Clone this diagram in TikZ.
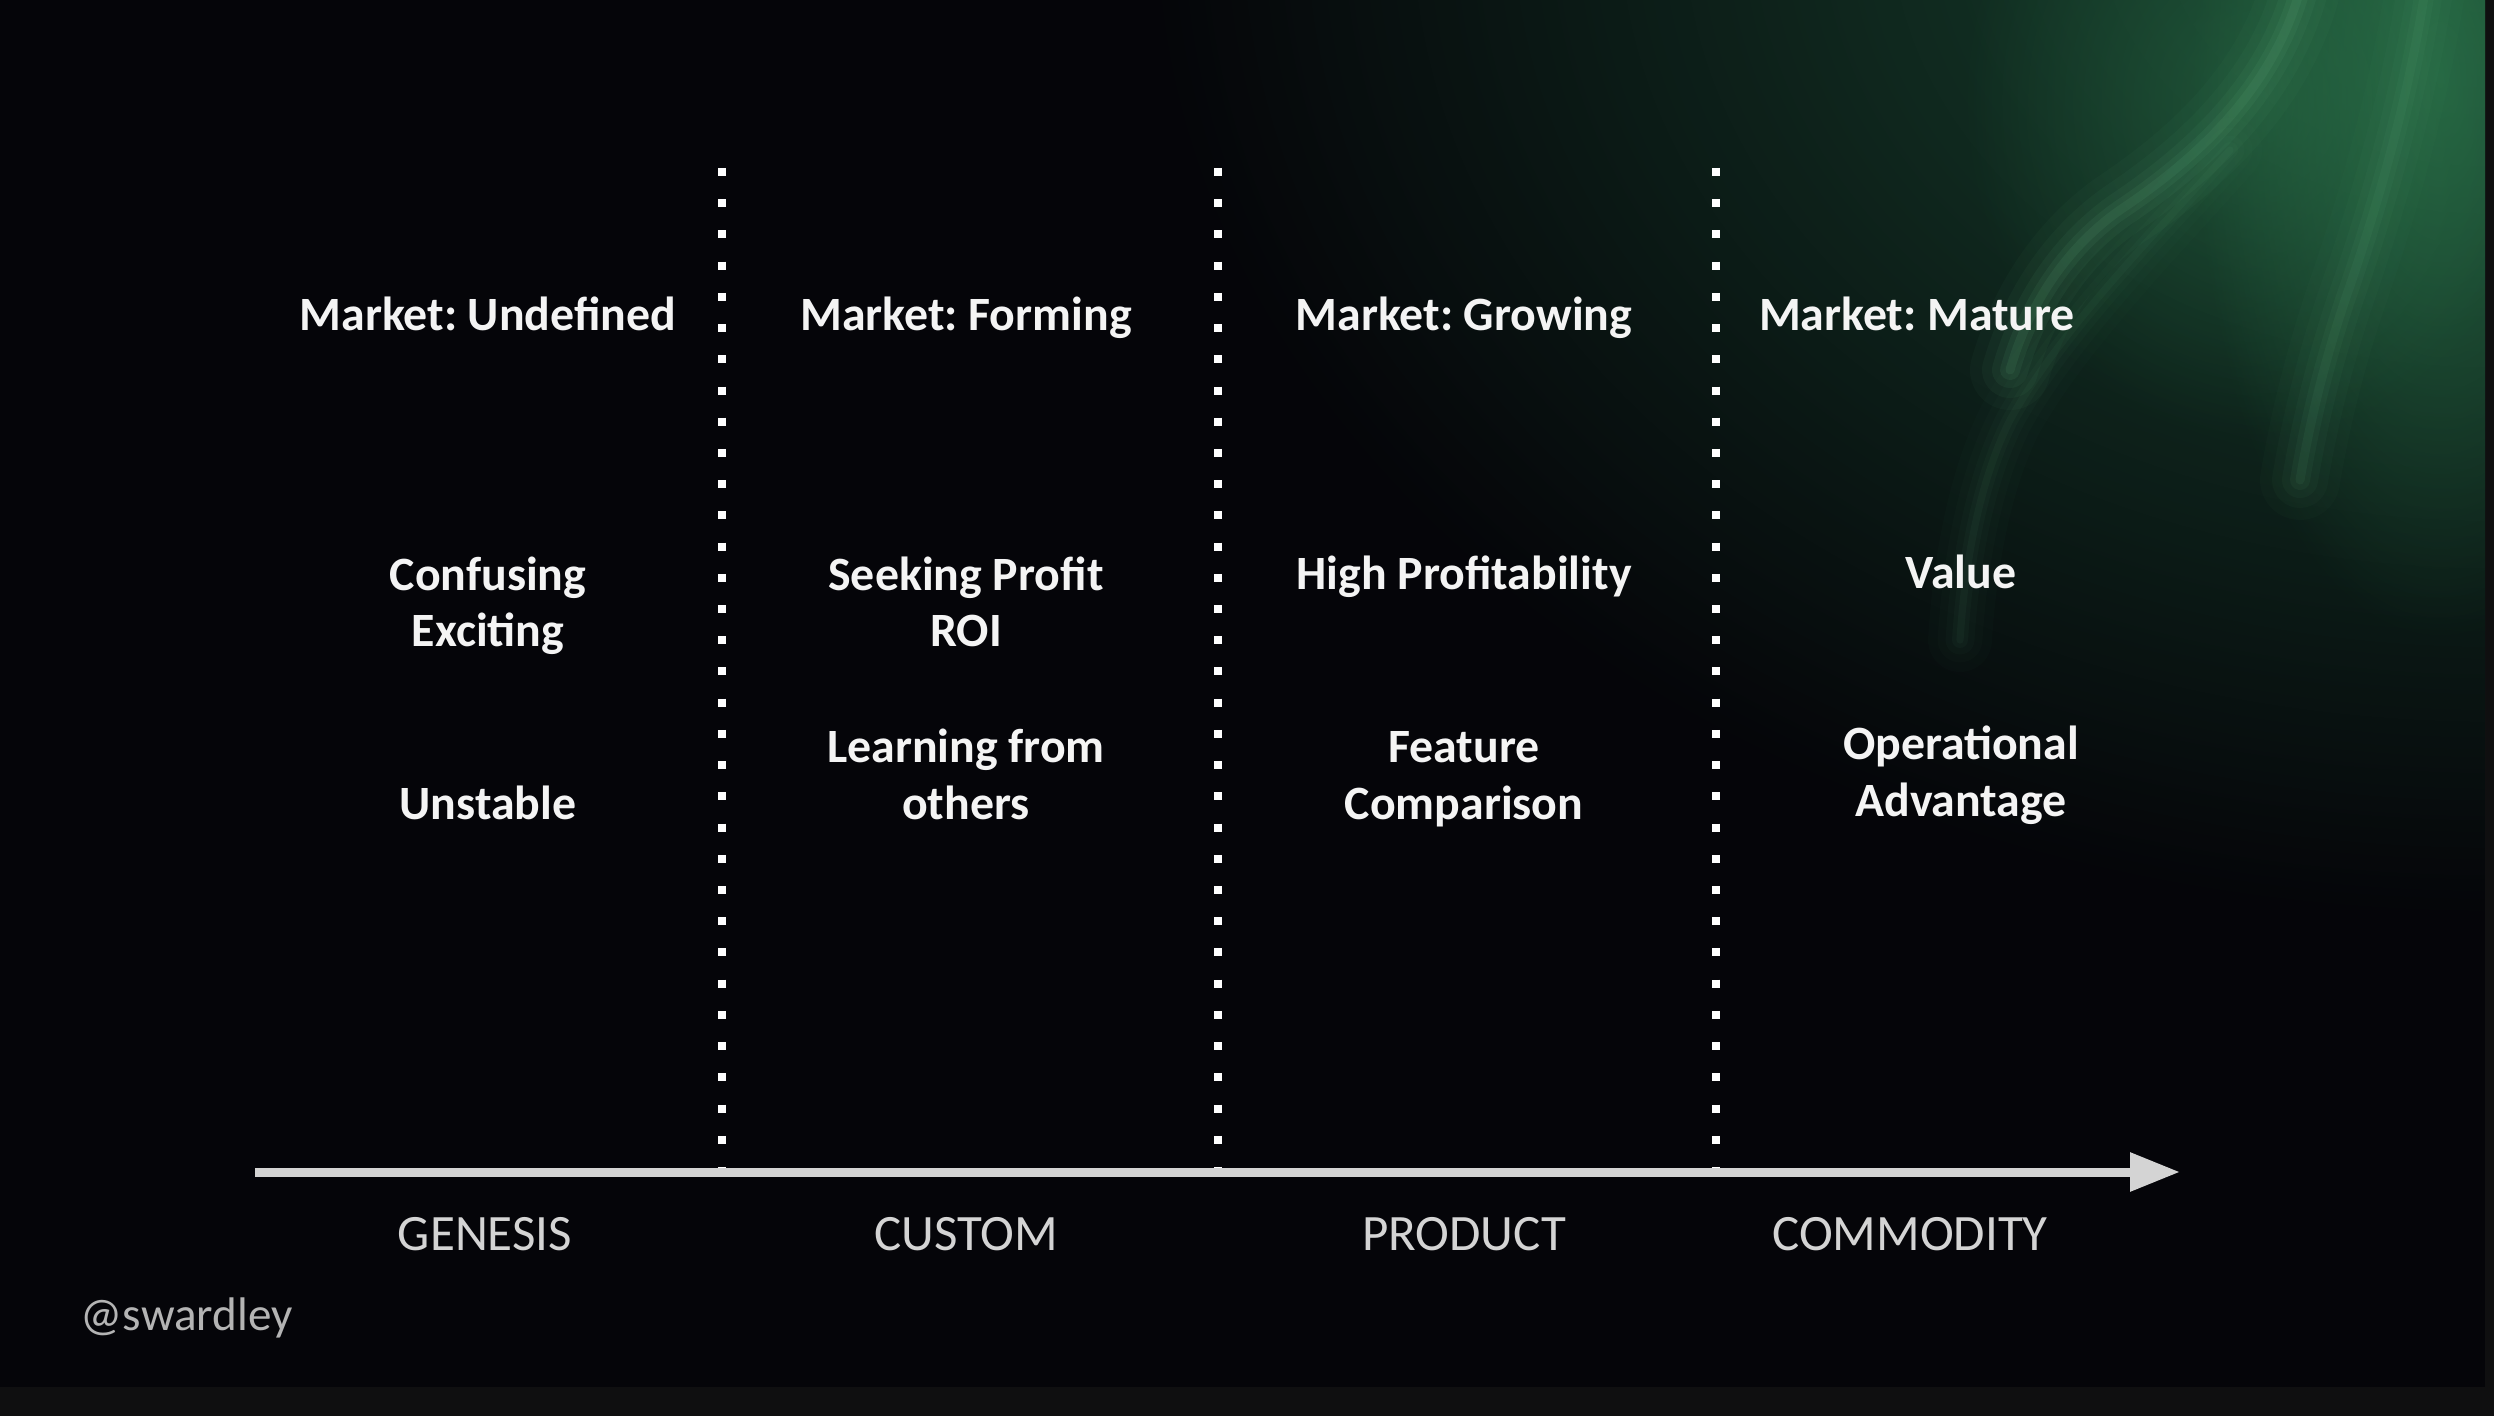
\documentclass[tikz,border=0pt]{standalone}
\usepackage{fontspec}
\setmainfont{Carlito}
\usetikzlibrary{arrows.meta,fadings}

\tikzfading[name=softglow, inner color=transparent!0, outer color=transparent!100]

\definecolor{frame}{HTML}{0F0F10}
\definecolor{panel}{HTML}{050509}
\definecolor{smoke}{HTML}{66B482}
\definecolor{haze}{HTML}{1B4D35}
\definecolor{glow}{HTML}{2E7A4E}
\definecolor{inkwhite}{HTML}{F4F4F4}
\definecolor{inkgray}{HTML}{D4D4D4}
\definecolor{credit}{HTML}{B4B4B4}

\tikzset{
  stage/.style={font=\bfseries\fontsize{13.6}{16.2}\selectfont, text=inkwhite,
    align=center, inner sep=0pt, anchor=base},
  axislabel/.style={font=\fontsize{14.5}{17}\selectfont, text=inkgray,
    inner sep=0pt, anchor=base},
  divider/.style={draw=white, line width=0.08cm, dash pattern=on 0.08cm off 0.232cm},
  axis/.style={draw=inkgray, line width=0.09cm,
    -{Triangle[length=0.5cm, width=0.37cm]}},
  wisp/.style={draw=smoke, line cap=round},
}

\begin{document}
\begin{tikzpicture}[x=0.01cm, y=-0.01cm]
  % frame and dark panel
  \fill[frame] (0,0) rectangle (2494,1416);
  \fill[panel] (0,0) rectangle (2485,1387);

  % green haze and smoke in the upper right corner
  \begin{scope}
    \clip (0,0) rectangle (2485,1387);
    \fill[haze, path fading=softglow, fill opacity=0.9]
      (2494,-80) ellipse (1350 and 1000);
    \fill[glow, path fading=softglow, fill opacity=0.65]
      (2440,80) ellipse (250 and 560);
    \fill[glow, path fading=softglow, fill opacity=0.45]
      (2260,100) ellipse (300 and 340);
    % smoke wisps, drawn as layered soft strokes
    \foreach \w/\o in {80/0.04, 56/0.05, 36/0.07, 20/0.09, 9/0.11} {
      \draw[wisp, line width=\w*0.01cm, opacity=\o]
        (2300,-10) .. controls (2275,80) and (2210,150) .. (2120,210)
        .. controls (2070,245) and (2030,300) .. (2010,370);
      \draw[wisp, line width=\w*0.01cm, opacity=0.7*\o]
        (2425,-10) .. controls (2410,90) and (2380,200) .. (2345,300)
        .. controls (2325,360) and (2310,420) .. (2300,480);
      \draw[wisp, line width=0.8*\w*0.01cm, opacity=0.45*\o]
        (2230,150) .. controls (2150,240) and (2060,330) .. (2010,420)
        .. controls (1980,480) and (1965,560) .. (1960,640);
    }
  \end{scope}

  % stage dividers
  \foreach \n/\x in {a/722, b/1218, c/1716} {
    \coordinate (\n top) at (\x,168);
    \coordinate (\n bot) at (\x,1172);
    \draw[divider] (\n top) -- (\n bot);
  }

  % evolution axis
  \coordinate (axstart) at (255,1172);
  \coordinate (axend) at (2180,1172);
  \draw[axis] (axstart) -- (axend);

  % market headings
  \node[stage] (m1) at (488,331) {Market:\hspace{-0.08em} Undefined};
  \node[stage] (m2) at (966,331) {Market:\hspace{-0.08em} Forming};
  \node[stage] (m3) at (1464,331) {Market:\hspace{-0.08em} Growing};
  \node[stage] (m4) at (1917,331) {Market:\hspace{-0.08em} Mature};

  % characteristics (anchored on the baseline of the last line)
  \node[stage] (c1) at (488,647) {Confusing\\Exciting};
  \node[stage] (c2) at (966,647) {Seeking Profit\\ROI};
  \node[stage] (c3) at (1464,590) {High Profitability};
  \node[stage] (c4) at (1961,589) {Value};

  \node[stage] (d1) at (488,819) {Unstable};
  \node[stage] (d2) at (966,819) {Learning from\\others};
  \node[stage] (d3) at (1464,819) {Feature\\Comparison};
  \node[stage] (d4) at (1961,816) {Operational\\Advantage};

  % axis labels
  \node[axislabel] (g) at (485,1250) {GENESIS};
  \node[axislabel] (cu) at (966,1250) {CUSTOM};
  \node[axislabel] (p) at (1464,1250) {PRODUCT};
  \node[axislabel] (co) at (1910,1250) {COMMODITY};

  % credit
  \node[font=\fontsize{13.4}{16}\selectfont, text=credit, inner sep=0pt,
    anchor=base west] (credit) at (80,1330) {@swardley};
\end{tikzpicture}
\end{document}
